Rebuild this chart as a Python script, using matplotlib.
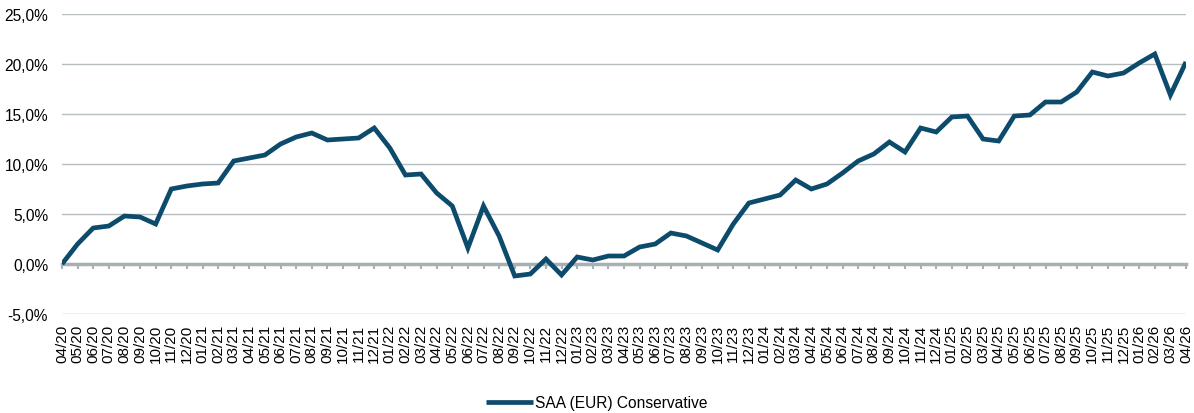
import matplotlib
matplotlib.use("Agg")
import matplotlib.pyplot as plt
from matplotlib.ticker import FuncFormatter, MultipleLocator

plt.rcParams['font.family'] = ['Liberation Sans', 'DejaVu Sans']

months = ["04/20", "05/20", "06/20", "07/20", "08/20", "09/20", "10/20", "11/20", "12/20",
          "01/21", "02/21", "03/21", "04/21", "05/21", "06/21", "07/21", "08/21", "09/21", "10/21", "11/21", "12/21",
          "01/22", "02/22", "03/22", "04/22", "05/22", "06/22", "07/22", "08/22", "09/22", "10/22", "11/22", "12/22",
          "01/23", "02/23", "03/23", "04/23", "05/23", "06/23", "07/23", "08/23", "09/23", "10/23", "11/23", "12/23",
          "01/24", "02/24", "03/24", "04/24", "05/24", "06/24", "07/24", "08/24", "09/24", "10/24", "11/24", "12/24",
          "01/25", "02/25", "03/25", "04/25", "05/25", "06/25", "07/25", "08/25", "09/25", "10/25", "11/25", "12/25",
          "01/26", "02/26", "03/26", "04/26"]

saa_conservative = [0.0, 2.0, 3.6, 3.8, 4.8, 4.7, 4.0, 7.5, 7.8,
                    8.0, 8.1, 10.3, 10.6, 10.9, 12.0, 12.7, 13.1, 12.4, 12.5, 12.6, 13.6,
                    11.6, 8.9, 9.0, 7.1, 5.8, 1.6, 5.8, 2.8, -1.2, -1.0, 0.5, -1.1,
                    0.7, 0.4, 0.8, 0.8, 1.7, 2.0, 3.1, 2.8, 2.1, 1.4, 4.0, 6.1,
                    6.5, 6.9, 8.4, 7.5, 8.0, 9.1, 10.3, 11.0, 12.2, 11.2, 13.6, 13.2,
                    14.7, 14.8, 12.5, 12.3, 14.8, 14.9, 16.2, 16.2, 17.2, 19.2, 18.8, 19.1,
                    20.1, 21.0, 16.9, 20.2]

series_name = "SAA (EUR) Conservative"

line_color = "#0C4B6C"
grid_color = "#B7BEC0"
zero_color = "#A7B0B2"

fig = plt.figure(figsize=(11.94, 4.14), dpi=100)
ax = fig.add_axes([62/1194, 99/414, (1186-62)/1194, (315-15)/414])

x = list(range(len(months)))
ax.plot(x, saa_conservative, color=line_color, lw=3.4, solid_joinstyle='miter',
        solid_capstyle='butt', label=series_name, zorder=4)

ax.set_xlim(0, len(months) - 1)
ax.set_ylim(-5, 25)
ax.yaxis.set_major_locator(MultipleLocator(5))
ax.yaxis.set_major_formatter(FuncFormatter(lambda v, p: f"{v:.1f}%".replace(".", ",")))
ax.grid(axis='y', color=grid_color, lw=1.0, zorder=1)
ax.tick_params(axis='y', length=0, pad=10, labelsize=11.2, colors='#000000')

for s in ['top', 'right', 'left']:
    ax.spines[s].set_visible(False)
# Zero line acts as category axis with ticks
ax.spines['bottom'].set_position(('data', 0))
ax.spines['bottom'].set_color(zero_color)
ax.spines['bottom'].set_linewidth(2.5)
ax.spines['bottom'].set_zorder(3)
ax.set_xticks(x)
ax.tick_params(axis='x', direction='out', length=3.5, width=1.5, color=zero_color,
               labelbottom=False)

# Labels at the bottom of plot
sec = ax.secondary_xaxis(location=0)
sec.set_xticks(x)
sec.set_xticklabels(months, rotation=90, fontsize=11)
sec.tick_params(axis='x', length=0, pad=7)
sec.spines['bottom'].set_visible(False)

leg = fig.legend(loc='center', bbox_to_anchor=(0.5, 10/414), ncol=1,
                 frameon=False, fontsize=11.2, handlelength=3.0, handletextpad=0.15,
                 borderaxespad=0)

fig.savefig("out.png", dpi=100)
